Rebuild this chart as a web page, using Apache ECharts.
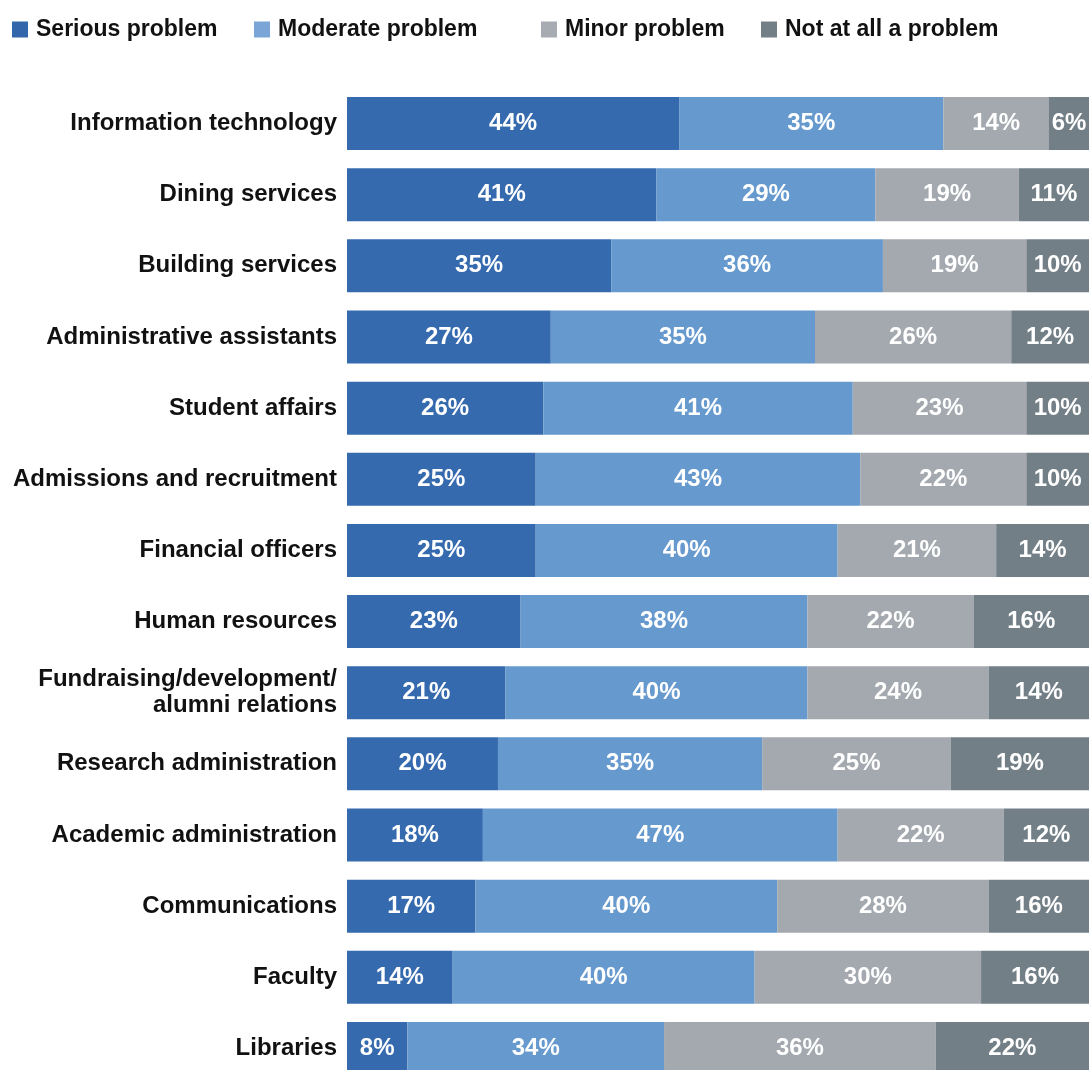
<!DOCTYPE html>
<html>
<head>
<meta charset="utf-8">
<script src="https://cdn.jsdelivr.net/npm/echarts@6/dist/echarts.min.js"></script>
<style>
  html, body { margin: 0; padding: 0; background: #ffffff; }
  #chart { width: 1089px; height: 1070px; }
</style>
</head>
<body>
<div id="chart"></div>
<script>
// Survey categories, top to bottom
const categories = [
  'Information technology',
  'Dining services',
  'Building services',
  'Administrative assistants',
  'Student affairs',
  'Admissions and recruitment',
  'Financial officers',
  'Human resources',
  'Fundraising/development/\nalumni relations',
  'Research administration',
  'Academic administration',
  'Communications',
  'Faculty',
  'Libraries'
];

// Response shares (%) per category
const seriousProblem  = [44, 41, 35, 27, 26, 25, 25, 23, 21, 20, 18, 17, 14, 8];
const moderateProblem = [35, 29, 36, 35, 41, 43, 40, 38, 40, 35, 47, 40, 40, 34];
const minorProblem    = [14, 19, 19, 26, 23, 22, 21, 22, 24, 25, 22, 28, 30, 36];
const notAProblem     = [6, 11, 10, 12, 10, 10, 14, 16, 14, 19, 12, 16, 16, 22];

const seriesNames = ['Serious problem', 'Moderate problem', 'Minor problem', 'Not at all a problem'];
const seriesData = [seriousProblem, moderateProblem, minorProblem, notAProblem];
const barColors = ['#356AAE', '#6699CD', '#A3A9AF', '#737F87'];
const legendColors = ['#3366AA', '#7AA5D6', '#A6ACB2', '#737F87'];
const legendLefts = [12, 254, 541, 761];

const FONT = '"Liberation Sans", Arial, sans-serif';

const chart = echarts.init(document.getElementById('chart'), null, { renderer: 'canvas' });

// One legend block per series so each entry sits at its own column
const legends = seriesNames.map((name, i) => ({
  show: true,
  left: legendLefts[i],
  top: 18,
  orient: 'horizontal',
  data: [{ name: name, itemStyle: { color: legendColors[i] } }],
  icon: 'rect',
  itemWidth: 16,
  itemHeight: 16,
  itemGap: 0,
  padding: 0,
  selectedMode: false,
  textStyle: {
    fontFamily: FONT,
    fontWeight: 'bold',
    fontSize: 23,
    color: '#111111',
    padding: [0, 0, 0, 3]
  }
}));

const option = {
  animation: false,
  backgroundColor: '#ffffff',
  legend: legends,
  grid: {
    left: 347,
    right: 0,
    top: 88,
    height: 996,
    outerBoundsMode: 'none',
    containLabel: false
  },
  xAxis: {
    type: 'value',
    min: 0,
    max: 98.3,
    show: false
  },
  yAxis: {
    type: 'category',
    data: categories,
    inverse: true,
    axisLine: { show: false },
    axisTick: { show: false },
    splitLine: { show: false },
    axisLabel: {
      margin: 10,
      fontFamily: FONT,
      fontWeight: 'bold',
      fontSize: 24,
      lineHeight: 26,
      color: '#111111',
      align: 'right'
    }
  },
  series: seriesData.map((data, i) => ({
    name: seriesNames[i],
    type: 'bar',
    stack: 'total',
    barWidth: 53,
    clip: true,
    data: data,
    itemStyle: { color: barColors[i] },
    label: {
      show: true,
      position: 'inside',
      formatter: '{c}%',
      color: '#ffffff',
      fontFamily: FONT,
      fontWeight: 'bold',
      fontSize: 24
    }
  }))
};

chart.setOption(option);
</script>
</body>
</html>
